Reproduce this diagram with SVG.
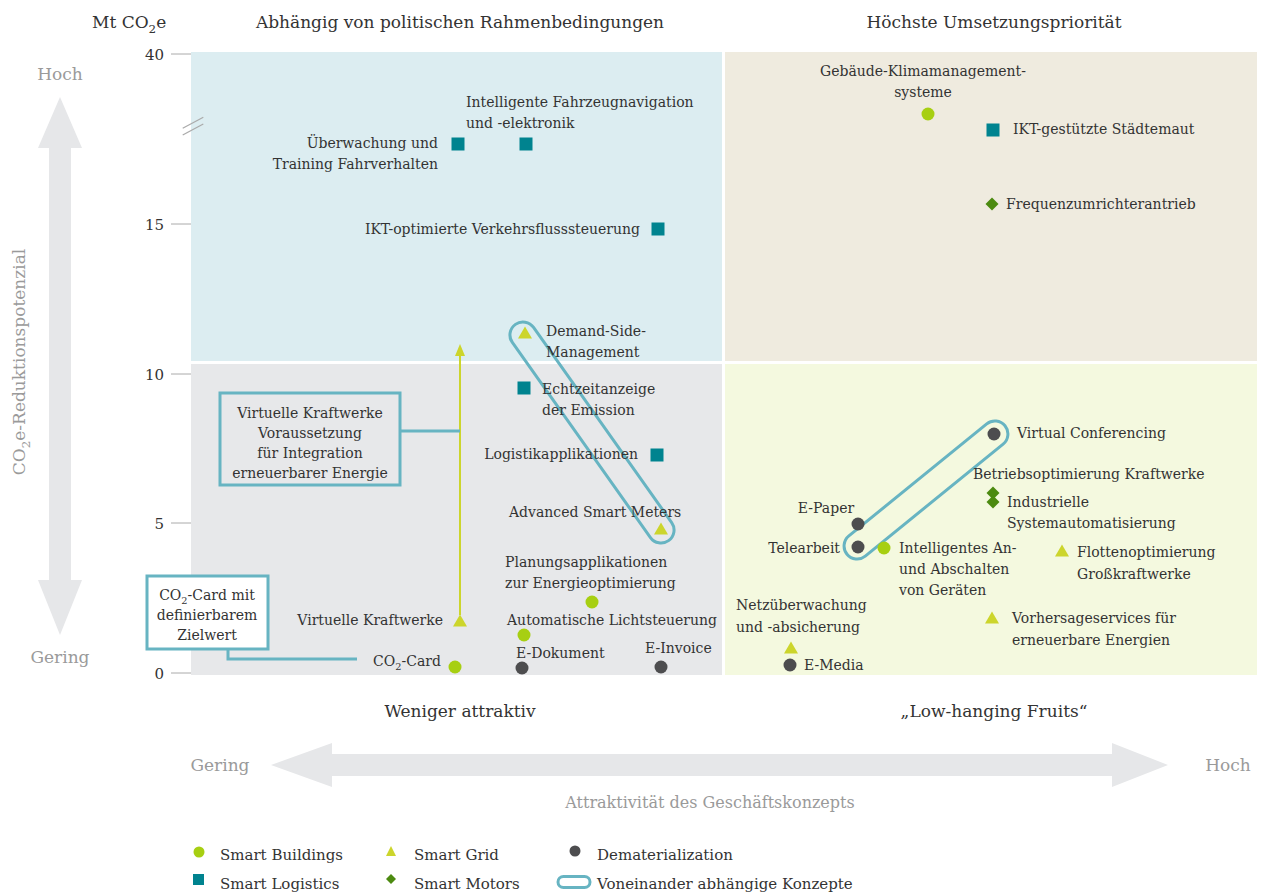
<svg xmlns="http://www.w3.org/2000/svg" xmlns:xlink="http://www.w3.org/1999/xlink" width="1268" height="893" viewBox="0 0 1268 893">
<style>
text{font-family:"DejaVu Serif","Liberation Serif",serif;fill:#333;}
.lbl{font-size:14px;}
.hd{font-size:17px;}
.ax{font-size:17px;fill:#9a9a9a;}
.tk{font-size:15px;}
.lg{font-size:15px;}
.bx{font-size:14px;}
.end{text-anchor:end;}
.mid{text-anchor:middle;}
.sb{font-size:70%;}
.pill{fill:none;stroke:#67b4c2;stroke-width:3;}
.conn{fill:none;stroke:#67b4c2;stroke-width:3;}
.tick{stroke:#aaa;stroke-width:1;}
</style>
<defs>
<circle id="cB" r="6.5" fill="#a7cf12"/>
<circle id="cD" r="6.5" fill="#4d4d4f"/>
<rect id="sq" x="-6.5" y="-6.5" width="13" height="13" fill="#00838f"/>
<polygon id="tr" points="0,-6.5 7,5.5 -7,5.5" fill="#ccd52c"/>
<polygon id="dm" points="0,-6.5 6.5,0 0,6.5 -6.5,0" fill="#4c8a10"/>
</defs>

<!-- quadrants -->
<g id="quadrants">
<rect x="191" y="52" width="531" height="309" fill="#dcedf1"/>
<rect x="725" y="52" width="532" height="309" fill="#efebdf"/>
<rect x="191" y="364" width="531" height="311" fill="#e7e8ea"/>
<rect x="725" y="364" width="532" height="311" fill="#f4f9df"/>
</g>

<!-- axes -->
<g id="axes">
<line class="tick" x1="171" y1="54" x2="191" y2="54"/>
<line class="tick" x1="171" y1="224" x2="191" y2="224"/>
<line class="tick" x1="171" y1="374" x2="191" y2="374"/>
<line class="tick" x1="171" y1="523" x2="191" y2="523"/>
<line class="tick" x1="171" y1="673" x2="191" y2="673"/>
<text class="tk end" x="164" y="60">40</text>
<text class="tk end" x="164" y="230">15</text>
<text class="tk end" x="164" y="380">10</text>
<text class="tk end" x="164" y="529">5</text>
<text class="tk end" x="164" y="679">0</text>
<line x1="182.7" y1="128.3" x2="203.3" y2="117.3" stroke="#aaa" stroke-width="1.2"/>
<line x1="182.7" y1="135" x2="203.3" y2="124" stroke="#aaa" stroke-width="1.2"/>
<text class="hd" x="92" y="28">Mt CO<tspan class="sb" dy="5">2</tspan><tspan dy="-5">e</tspan></text>
<text class="hd mid" x="460" y="28">Abhängig von politischen Rahmenbedingungen</text>
<text class="hd mid" x="994" y="28">Höchste Umsetzungspriorität</text>
<text class="hd mid" x="460" y="717">Weniger attraktiv</text>
<text class="hd mid" x="994" y="717">„Low-hanging Fruits“</text>
<polygon points="60,97 82,148 71,148 71,580 82,580 60,635 38,580 49,580 49,148 38,148" fill="#e6e7e9"/>
<text class="ax mid" x="60" y="80">Hoch</text>
<text class="ax mid" x="60" y="663">Gering</text>
<text class="ax mid" transform="translate(25,362) rotate(-90)">CO<tspan class="sb" dy="5">2</tspan><tspan dy="-5">e-Reduktionspotenzial</tspan></text>
<polygon points="271,765 332,743 332,754 1112,754 1112,743 1168,765 1112,787 1112,776 332,776 332,787" fill="#e6e7e9"/>
<text class="ax mid" x="220" y="771">Gering</text>
<text class="ax mid" x="1228" y="771">Hoch</text>
<text class="ax mid" x="710" y="808" style="font-size:16px">Attraktivität des Geschäftskonzepts</text>
</g>

<!-- connectors -->
<g id="connectors">
<line x1="460" y1="615" x2="460" y2="352" stroke="#ccd52c" stroke-width="2"/>
<polygon points="460,344 465,356 455,356" fill="#ccd52c"/>
<line class="conn" x1="400" y1="431" x2="460" y2="431"/>
<polyline class="conn" points="228,649 228,659 357,659"/>
<rect class="pill" x="-132.5" y="-13" width="265" height="26" rx="13" transform="translate(592,432.5) rotate(54.7)"/>
<rect class="pill" x="-101.8" y="-13" width="203.6" height="26" rx="13" transform="translate(926,490) rotate(-39.1)"/>
</g>

<!-- boxes -->
<g id="box-vk">
<rect x="220" y="393" width="180" height="92" fill="none" stroke="#67b4c2" stroke-width="3"/>
<text class="bx mid" x="310" y="418">Virtuelle Kraftwerke</text>
<text class="bx mid" x="310" y="438">Voraussetzung</text>
<text class="bx mid" x="310" y="458">für Integration</text>
<text class="bx mid" x="310" y="478">erneuerbarer Energie</text>
</g>
<g id="box-co2">
<rect x="147" y="576" width="121" height="73" fill="#fff" stroke="#67b4c2" stroke-width="3"/>
<text class="bx mid" x="207" y="600">CO<tspan class="sb" dy="4">2</tspan><tspan dy="-4">-Card mit</tspan></text>
<text class="bx mid" x="207" y="620">definierbarem</text>
<text class="bx mid" x="207" y="640">Zielwert</text>
</g>

<!-- nodes top-left -->
<g id="n-fahrzeugnav"><use href="#sq" x="526" y="144"/><text class="lbl" x="466" y="107">Intelligente Fahrzeugnavigation</text><text class="lbl" x="466" y="128">und -elektronik</text></g>
<g id="n-ueberwachung"><use href="#sq" x="458" y="144"/><text class="lbl end" x="438" y="148">Überwachung und</text><text class="lbl end" x="438" y="169">Training Fahrverhalten</text></g>
<g id="n-verkehrsfluss"><use href="#sq" x="658" y="229"/><text class="lbl end" x="640" y="234">IKT-optimierte Verkehrsflusssteuerung</text></g>
<g id="n-dsm"><use href="#tr" x="525" y="333"/><text class="lbl" x="546" y="336">Demand-Side-</text><text class="lbl" x="546" y="357">Management</text></g>

<!-- nodes bottom-left -->
<g id="n-echtzeit"><use href="#sq" x="524" y="388"/><text class="lbl" x="542" y="394">Echtzeitanzeige</text><text class="lbl" x="542" y="415">der Emission</text></g>
<g id="n-logistik"><use href="#sq" x="657" y="455"/><text class="lbl end" x="638" y="459">Logistikapplikationen</text></g>
<g id="n-asm"><use href="#tr" x="661" y="529"/><text class="lbl" x="509" y="517">Advanced Smart Meters</text></g>
<g id="n-planung"><use href="#cB" x="592" y="602"/><text class="lbl" x="505" y="567">Planungsapplikationen</text><text class="lbl" x="505" y="588">zur Energieoptimierung</text></g>
<g id="n-licht"><use href="#cB" x="524" y="635"/><text class="lbl" x="507" y="625">Automatische Lichtsteuerung</text></g>
<g id="n-vk"><use href="#tr" x="460" y="621"/><text class="lbl end" x="443" y="625">Virtuelle Kraftwerke</text></g>
<g id="n-edok"><use href="#cD" x="522" y="668"/><text class="lbl" x="516" y="658">E-Dokument</text></g>
<g id="n-einvoice"><use href="#cD" x="661" y="667"/><text class="lbl" x="645" y="653">E-Invoice</text></g>
<g id="n-co2card"><use href="#cB" x="455" y="667"/><text class="lbl end" x="441" y="666">CO<tspan class="sb" dy="4">2</tspan><tspan dy="-4">-Card</tspan></text></g>

<!-- nodes top-right -->
<g id="n-gebaeude"><use href="#cB" x="928" y="114"/><text class="lbl mid" x="923" y="76">Gebäude-Klimamanagement-</text><text class="lbl mid" x="923" y="97">systeme</text></g>
<g id="n-maut"><use href="#sq" x="993" y="130"/><text class="lbl" x="1013" y="134">IKT-gestützte Städtemaut</text></g>
<g id="n-frequenz"><use href="#dm" x="992" y="204"/><text class="lbl" x="1006" y="209">Frequenzumrichterantrieb</text></g>

<!-- nodes bottom-right -->
<g id="n-vconf"><use href="#cD" x="994" y="434"/><text class="lbl" x="1017" y="438">Virtual Conferencing</text></g>
<g id="n-betrieb"><use href="#dm" x="993" y="493"/><text class="lbl" x="973" y="479">Betriebsoptimierung Kraftwerke</text></g>
<g id="n-industrie"><use href="#dm" x="993" y="502"/><text class="lbl" x="1007" y="507">Industrielle</text><text class="lbl" x="1007" y="528">Systemautomatisierung</text></g>
<g id="n-epaper"><use href="#cD" x="858" y="524"/><text class="lbl mid" x="826" y="513">E-Paper</text></g>
<g id="n-telearbeit"><use href="#cD" x="858" y="547"/><text class="lbl end" x="840" y="553">Telearbeit</text></g>
<g id="n-anab"><use href="#cB" x="884" y="548"/><text class="lbl" x="899" y="553">Intelligentes An-</text><text class="lbl" x="899" y="574">und Abschalten</text><text class="lbl" x="899" y="595">von Geräten</text></g>
<g id="n-flotte"><use href="#tr" x="1062" y="551"/><text class="lbl" x="1077" y="557">Flottenoptimierung</text><text class="lbl" x="1077" y="579">Großkraftwerke</text></g>
<g id="n-vorhersage"><use href="#tr" x="992" y="618"/><text class="lbl" x="1012" y="623">Vorhersageservices für</text><text class="lbl" x="1012" y="645">erneuerbare Energien</text></g>
<g id="n-netz"><use href="#tr" x="791" y="648"/><text class="lbl" x="736" y="610">Netzüberwachung</text><text class="lbl" x="736" y="632">und -absicherung</text></g>
<g id="n-emedia"><use href="#cD" x="790" y="665"/><text class="lbl" x="804" y="670">E-Media</text></g>

<!-- legend -->
<g id="legend">
<circle cx="199" cy="852" r="5.5" fill="#a7cf12"/>
<text class="lg" x="220" y="860">Smart Buildings</text>
<polygon points="391,846 396,856 386,856" fill="#ccd52c"/>
<text class="lg" x="414" y="860">Smart Grid</text>
<circle cx="575" cy="851" r="5.5" fill="#4d4d4f"/>
<text class="lg" x="597" y="860">Dematerialization</text>
<rect x="193" y="874" width="11" height="11" fill="#00838f"/>
<text class="lg" x="220" y="889">Smart Logistics</text>
<polygon points="391,874 396,879 391,884 386,879" fill="#4c8a10"/>
<text class="lg" x="414" y="889">Smart Motors</text>
<rect x="558" y="876.5" width="32" height="11" rx="5.5" fill="none" stroke="#67b4c2" stroke-width="3"/>
<text class="lg" x="597" y="889">Voneinander abhängige Konzepte</text>
</g>
</svg>
